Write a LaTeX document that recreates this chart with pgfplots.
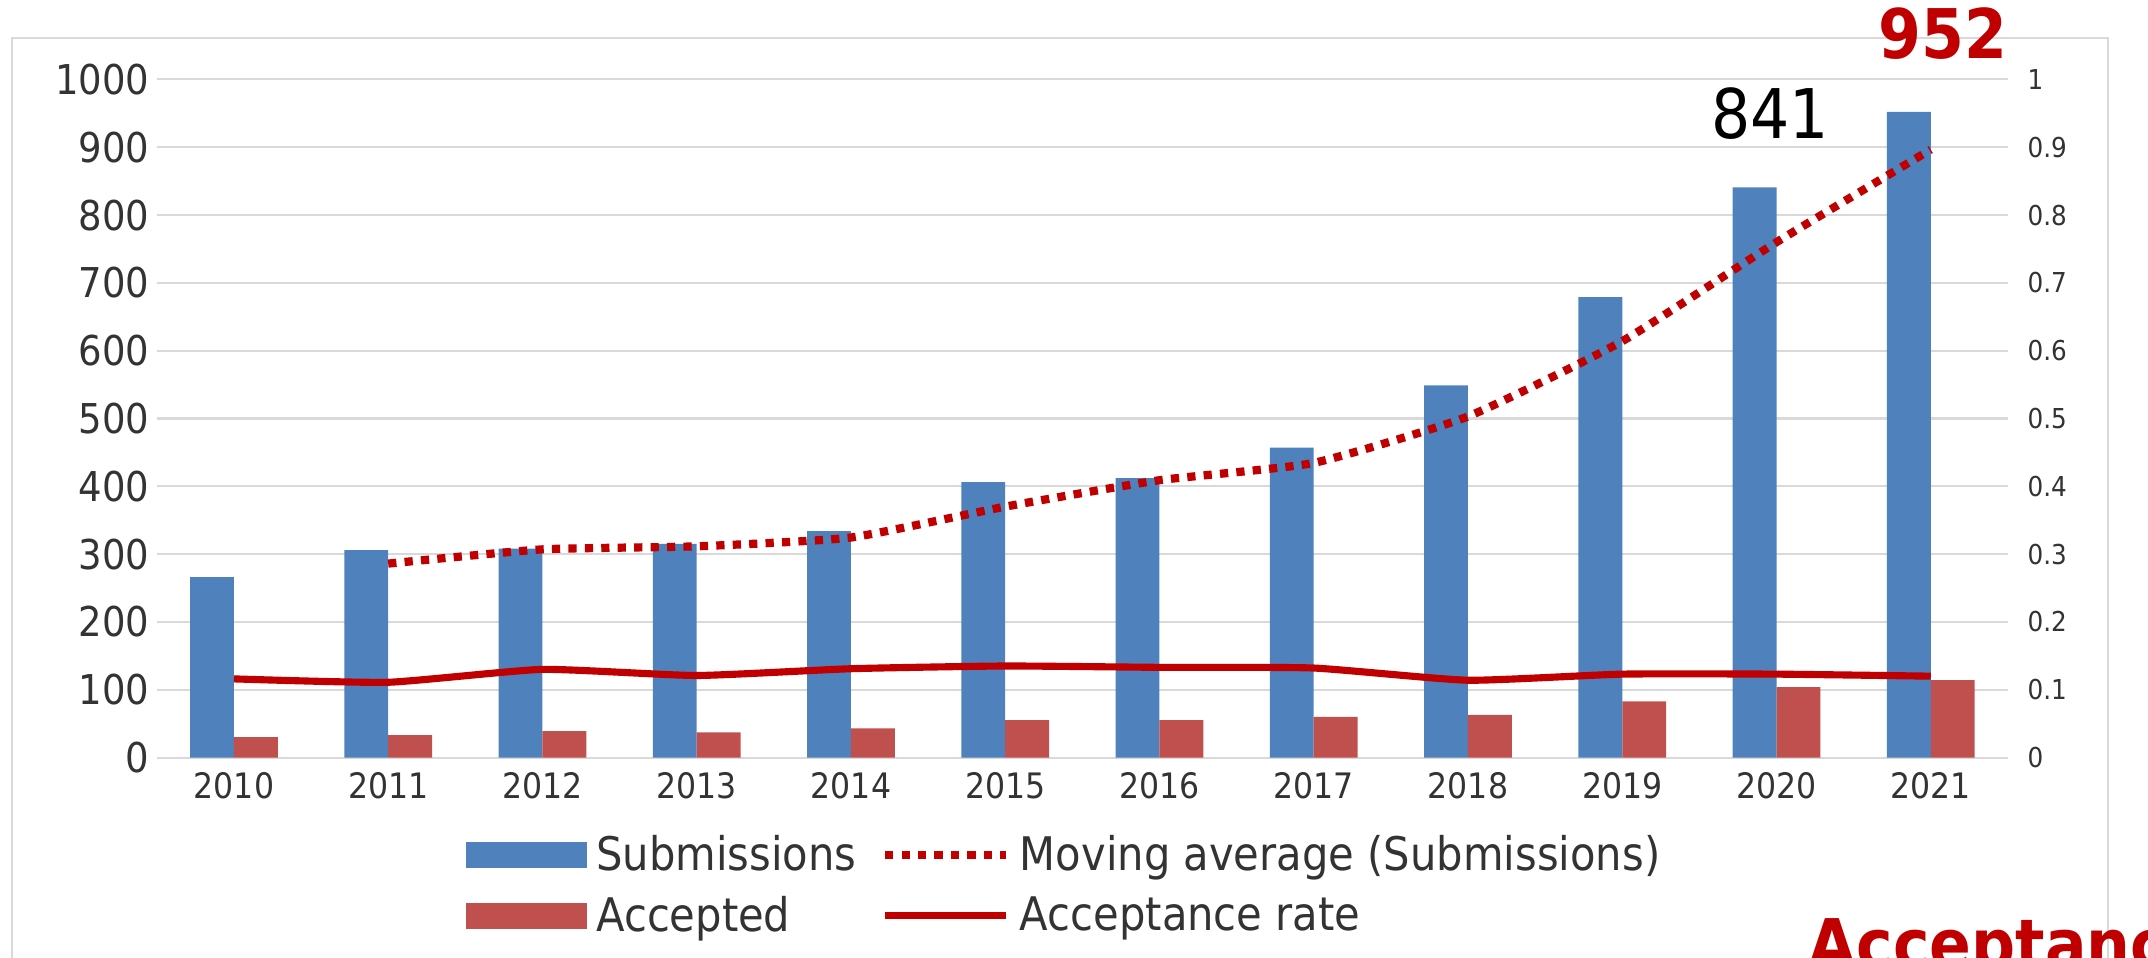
\documentclass[border=0pt]{standalone}
\usepackage{fontspec}
\setmainfont{DejaVu Sans}[FakeStretch=0.9]
\usepackage{pgfplots}
\pgfplotsset{compat=1.18}

\definecolor{subblue}{HTML}{4F81BD}
\definecolor{accred}{HTML}{C0504D}
\definecolor{darkred}{HTML}{C00000}
\definecolor{gridgray}{HTML}{D9D9D9}
\definecolor{textgray}{HTML}{333333}

\pgfplotsset{
  common/.style={
    scale only axis, width=675.6pt, height=247.5pt,
    xmin=-0.5, xmax=11.5,
    axis line style={draw=none}, major tick length=0pt,
    /pgf/number format/assume math mode=true,
    /pgf/number format/1000 sep={},
    ticklabel style={text=textgray},
  }
}

\begin{document}
\begin{tikzpicture}
\useasboundingbox (-57.25pt,-73pt) rectangle (726.75pt,276.5pt);
\draw[gridgray, line width=0.75pt] (-53pt,-80pt) rectangle (712.25pt,262.5pt);

\begin{axis}[common,
  clip=false,
  ymin=0, ymax=1000,
  xtick={0,...,11},
  xticklabels={2010,2011,2012,2013,2014,2015,2016,2017,2018,2019,2020,2021},
  ytick={0,100,...,1000},
  ymajorgrids, grid style={draw=gridgray, line width=0.75pt},
  yticklabel style={font=\fontsize{15}{18}\selectfont, inner sep=0pt, anchor=east, xshift=-2.6pt},
  xticklabel style={font=\fontsize{12.8}{15}\selectfont, inner sep=0pt, anchor=north, yshift=-5.3pt},
  legend columns=2,
  legend style={at={(0.1665,-0.106)}, anchor=north west, draw=none, fill=none,
    inner sep=0pt, row sep=3.8pt,
    font=\fontsize{16.9}{20}\selectfont, text=textgray,
    /tikz/every odd column/.append style={column sep=1.5pt},
    /tikz/every even column/.append style={column sep=7pt}},
  legend cell align=left,
]
\addplot[ybar, bar width=16pt, bar shift=-8pt, fill=subblue, draw=none,
  legend image code/.code={\fill[subblue] (0pt,-4.7pt) rectangle (44.2pt,4.7pt);}]
  coordinates {(0,266) (1,306) (2,308) (3,315) (4,334) (5,406) (6,412) (7,457) (8,549) (9,679) (10,841) (11,952)};
\addlegendentry{Submissions}
\addplot[darkred, line width=3pt, dash pattern=on 3pt off 3pt, smooth, tension=0.3,
  legend image code/.code={\draw[darkred, line width=3pt, dash pattern=on 3pt off 3pt] (0pt,0pt) -- (44.2pt,0pt);}]
  coordinates {(1,286) (2,307) (3,311.5) (4,324.5) (5,370) (6,409) (7,434.5) (8,503) (9,614) (10,760) (11,896.5)};
\addlegendentry{Moving average (Submissions)}
\addplot[ybar, bar width=16pt, bar shift=8pt, fill=accred, draw=none,
  legend image code/.code={\fill[accred] (0pt,-4.7pt) rectangle (44.2pt,4.7pt);}]
  coordinates {(0,30) (1,33) (2,39) (3,37) (4,43) (5,55) (6,55) (7,60) (8,63) (9,83) (10,104) (11,114)};
\addlegendentry{Accepted}
\addlegendimage{legend image code/.code={\draw[darkred, line width=2.5pt] (0pt,0pt) -- (44.2pt,0pt);}}
\addlegendentry{Acceptance rate}

\node[anchor=base, inner sep=0pt, font=\fontsize{25}{30}\selectfont, xshift=-2.4pt, yshift=17.9pt]
  at (axis cs:10,841) {841};
\node[anchor=base, inner sep=0pt, font=\bfseries\fontsize{25}{30}\selectfont, text=darkred, xshift=4.3pt, yshift=19.6pt]
  at (axis cs:11,952) {952};
\end{axis}

\begin{axis}[common,
  ymin=0, ymax=1,
  axis y line*=right, hide x axis,
  ytick={0,0.1,0.2,0.3,0.4,0.5,0.6,0.7,0.8,0.9,1},
  yticklabel style={font=\fontsize{10}{12}\selectfont, inner sep=0pt, anchor=west, xshift=7pt},
]
\addplot[darkred, line width=2.6pt, smooth, tension=0.3]
  coordinates {(0,0.116) (1,0.111) (2,0.130) (3,0.121) (4,0.131) (5,0.135) (6,0.133) (7,0.132) (8,0.114) (9,0.123) (10,0.123) (11,0.120)};
\end{axis}

\begin{scope}
\clip (-57.25pt,-73pt) rectangle (726.75pt,276.5pt);
\node[anchor=base west, inner sep=0pt, font=\bfseries\fontsize{25}{30}\selectfont, text=darkred]
  at (602.75pt,-77pt) {Acceptance rate};
\end{scope}
\end{tikzpicture}
\end{document}
